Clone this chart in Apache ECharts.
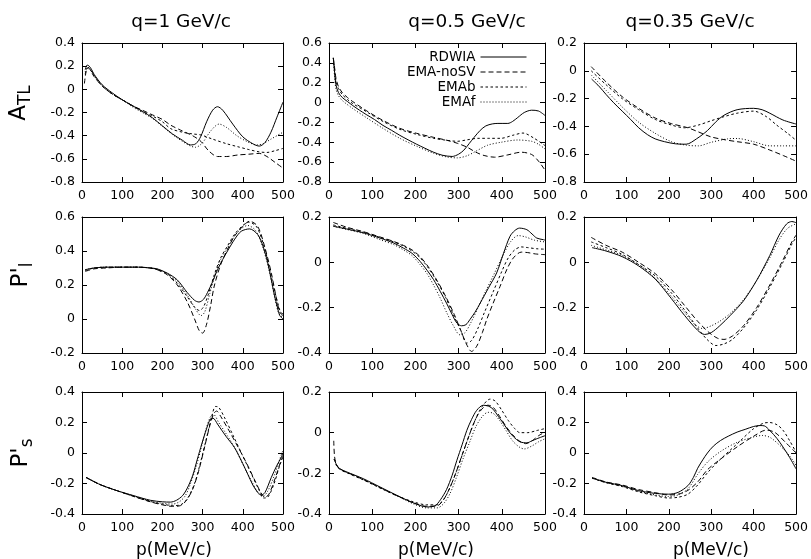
<!DOCTYPE html>
<html><head><meta charset="utf-8">
<script src="https://cdn.jsdelivr.net/npm/echarts@6/dist/echarts.min.js"></script>
<style>html,body{margin:0;padding:0;background:#fff}#c{width:811px;height:559px}</style>
</head><body><div id="c"></div>
<script>
// ---------- DATA: [p (MeV/c), value] ----------
// A_TL, q = 1 GeV/c
const atl1_rdwia = [[8,0.17],[13,0.21],[18,0.2],[24,0.17],[30,0.13],[50,0.04],[75,-0.03],[100,-0.09],[125,-0.14],[150,-0.19],[175,-0.245],[200,-0.315],[225,-0.385],[250,-0.44],[270,-0.48],[283,-0.47],[295,-0.41],[310,-0.28],[325,-0.18],[337,-0.15],[350,-0.18],[375,-0.3],[400,-0.41],[425,-0.47],[441,-0.49],[455,-0.46],[470,-0.37],[485,-0.24],[500,-0.11]];
const atl1_nosv = [[6,0.05],[10,0.15],[15,0.19],[22,0.16],[30,0.11],[50,0.03],[75,-0.04],[100,-0.09],[125,-0.14],[150,-0.18],[175,-0.22],[200,-0.26],[221,-0.31],[250,-0.36],[275,-0.4],[296,-0.45],[315,-0.53],[337,-0.58],[360,-0.58],[387,-0.567],[415,-0.56],[441,-0.553],[460,-0.58],[480,-0.63],[500,-0.68]];
const atl1_emab = [[8,0.13],[13,0.18],[20,0.17],[30,0.12],[50,0.03],[75,-0.04],[100,-0.09],[125,-0.14],[150,-0.19],[175,-0.23],[200,-0.28],[221,-0.34],[250,-0.37],[275,-0.385],[296,-0.394],[325,-0.43],[360,-0.47],[387,-0.495],[415,-0.52],[441,-0.54],[460,-0.545],[480,-0.53],[500,-0.51]];
const atl1_emaf = [[8,0.15],[14,0.19],[22,0.17],[30,0.12],[50,0.03],[75,-0.04],[100,-0.09],[125,-0.15],[150,-0.2],[175,-0.25],[200,-0.32],[225,-0.39],[250,-0.45],[270,-0.49],[283,-0.5],[300,-0.46],[320,-0.36],[341,-0.3],[360,-0.33],[385,-0.4],[410,-0.45],[435,-0.48],[450,-0.47],[470,-0.43],[500,-0.37]];
// A_TL, q = 0.5 GeV/c
const atl2_rdwia = [[10,0.45],[13,0.3],[16,0.18],[22,0.1],[31,0.05],[43,0.01],[55,-0.03],[70,-0.075],[86,-0.12],[105,-0.17],[125,-0.23],[145,-0.28],[164,-0.33],[183,-0.375],[203,-0.42],[222,-0.46],[242,-0.5],[262,-0.53],[285,-0.543],[300,-0.52],[312,-0.48],[325,-0.41],[336,-0.35],[350,-0.28],[363,-0.235],[378,-0.215],[391,-0.21],[414,-0.21],[425,-0.19],[437,-0.15],[452,-0.1],[469,-0.077],[485,-0.085],[500,-0.13]];
const atl2_nosv = [[10,0.45],[13,0.35],[16,0.25],[22,0.16],[31,0.1],[43,0.05],[55,0.01],[86,-0.08],[125,-0.18],[164,-0.26],[203,-0.31],[242,-0.35],[273,-0.38],[297,-0.41],[320,-0.45],[340,-0.5],[359,-0.533],[383,-0.55],[414,-0.527],[445,-0.5],[469,-0.523],[485,-0.59],[500,-0.68]];
const atl2_emab = [[10,0.45],[13,0.33],[16,0.22],[22,0.14],[31,0.08],[43,0.03],[55,-0.01],[86,-0.09],[125,-0.19],[164,-0.27],[203,-0.32],[242,-0.36],[273,-0.38],[297,-0.39],[320,-0.375],[345,-0.36],[370,-0.36],[398,-0.36],[425,-0.33],[449,-0.307],[475,-0.36],[500,-0.433]];
const atl2_emaf = [[10,0.45],[13,0.26],[16,0.14],[22,0.07],[31,0.02],[55,-0.06],[86,-0.15],[125,-0.26],[164,-0.36],[203,-0.44],[242,-0.51],[273,-0.548],[297,-0.557],[320,-0.535],[340,-0.49],[367,-0.43],[398,-0.4],[437,-0.377],[469,-0.39],[485,-0.42],[500,-0.467]];
// A_TL, q = 0.35 GeV/c
const atl3_rdwia = [[18,-0.06],[35,-0.11],[52,-0.17],[70,-0.23],[90,-0.29],[110,-0.35],[129,-0.41],[150,-0.46],[168,-0.49],[190,-0.51],[215,-0.525],[241,-0.528],[265,-0.49],[291,-0.43],[310,-0.37],[330,-0.32],[361,-0.28],[400,-0.27],[420,-0.28],[438,-0.305],[469,-0.354],[500,-0.383]];
const atl3_nosv = [[17,0.03],[52,-0.08],[90,-0.186],[129,-0.27],[168,-0.34],[206,-0.38],[245,-0.41],[270,-0.44],[299,-0.475],[330,-0.495],[361,-0.51],[400,-0.528],[438,-0.57],[470,-0.61],[500,-0.65]];
const atl3_emab = [[17,0.0],[52,-0.1],[90,-0.2],[129,-0.28],[168,-0.35],[206,-0.39],[237,-0.41],[270,-0.39],[299,-0.36],[330,-0.33],[361,-0.305],[400,-0.29],[430,-0.33],[454,-0.39],[480,-0.45],[500,-0.5]];
const atl3_emaf = [[17,-0.03],[52,-0.14],[90,-0.26],[129,-0.37],[168,-0.45],[206,-0.51],[241,-0.535],[270,-0.54],[299,-0.515],[338,-0.49],[361,-0.487],[400,-0.51],[438,-0.54],[470,-0.54],[500,-0.54]];
// P'_l, q = 1 GeV/c
const pl1_rdwia = [[8,0.29],[30,0.3],[60,0.305],[100,0.305],[140,0.305],[170,0.3],[187,0.295],[212,0.27],[237,0.23],[262,0.155],[280,0.11],[291,0.1],[302,0.115],[312,0.155],[325,0.22],[337,0.29],[350,0.35],[362,0.4],[380,0.47],[396,0.516],[417,0.53],[437,0.497],[450,0.43],[462,0.33],[471,0.23],[479,0.136],[486,0.07],[492,0.02],[500,0.0]];
const pl1_nosv = [[8,0.28],[30,0.295],[60,0.3],[100,0.305],[140,0.305],[170,0.3],[187,0.29],[212,0.26],[237,0.2],[262,0.1],[280,0.0],[292,-0.07],[300,-0.083],[310,-0.03],[320,0.08],[329,0.194],[345,0.32],[362,0.41],[380,0.49],[404,0.555],[417,0.575],[437,0.545],[455,0.42],[471,0.27],[482,0.14],[492,0.04],[500,0.02]];
const pl1_emab = [[8,0.285],[30,0.3],[60,0.305],[100,0.305],[140,0.305],[170,0.3],[187,0.29],[212,0.265],[237,0.21],[262,0.13],[280,0.07],[292,0.05],[302,0.07],[315,0.15],[329,0.26],[345,0.36],[362,0.43],[380,0.5],[400,0.55],[415,0.57],[435,0.54],[455,0.41],[471,0.25],[484,0.12],[494,0.04],[500,0.03]];
const pl1_emaf = [[8,0.29],[30,0.3],[60,0.305],[100,0.305],[140,0.305],[170,0.3],[187,0.293],[212,0.268],[237,0.22],[262,0.14],[282,0.06],[296,0.02],[305,0.04],[318,0.15],[332,0.27],[345,0.35],[362,0.42],[380,0.49],[398,0.535],[412,0.55],[432,0.52],[450,0.42],[466,0.28],[480,0.12],[490,0.03],[500,0.01]];
// P'_l, q = 0.5 GeV/c
const pl2_rdwia = [[10,0.159],[41,0.147],[80,0.13],[118,0.107],[150,0.085],[172,0.063],[192,0.04],[211,0.004],[227,-0.035],[242,-0.076],[258,-0.13],[272,-0.18],[285,-0.23],[296,-0.268],[307,-0.28],[317,-0.275],[326,-0.253],[338,-0.22],[350,-0.18],[370,-0.11],[388,-0.047],[404,0.04],[419,0.115],[430,0.14],[441,0.151],[458,0.144],[470,0.125],[481,0.107],[496,0.1],[500,0.098]];
const pl2_nosv = [[10,0.176],[41,0.155],[80,0.135],[118,0.112],[150,0.092],[172,0.075],[192,0.055],[211,0.025],[230,-0.02],[250,-0.08],[270,-0.15],[290,-0.23],[305,-0.3],[318,-0.36],[330,-0.393],[342,-0.37],[355,-0.31],[365,-0.253],[380,-0.18],[396,-0.106],[412,-0.03],[427,0.02],[445,0.045],[460,0.043],[478,0.037],[500,0.034]];
const pl2_emab = [[10,0.165],[41,0.15],[80,0.133],[118,0.11],[150,0.09],[172,0.072],[192,0.05],[211,0.02],[230,-0.025],[250,-0.085],[270,-0.155],[290,-0.24],[305,-0.3],[319,-0.356],[330,-0.345],[345,-0.29],[360,-0.22],[380,-0.13],[400,-0.04],[415,0.02],[430,0.055],[445,0.068],[460,0.065],[480,0.06],[500,0.058]];
const pl2_emaf = [[10,0.16],[41,0.145],[80,0.127],[118,0.1],[150,0.078],[172,0.055],[192,0.03],[211,-0.01],[227,-0.05],[242,-0.1],[258,-0.16],[272,-0.22],[288,-0.28],[303,-0.32],[315,-0.31],[330,-0.26],[345,-0.2],[362,-0.13],[380,-0.06],[400,0.02],[420,0.09],[438,0.118],[455,0.112],[475,0.098],[500,0.09]];
// P'_l, q = 0.35 GeV/c
const pl3_rdwia = [[19,0.065],[52,0.05],[90,0.025],[129,-0.016],[168,-0.074],[206,-0.16],[237,-0.234],[268,-0.3],[284,-0.318],[300,-0.31],[320,-0.28],[345,-0.234],[376,-0.17],[407,-0.08],[438,0.03],[460,0.12],[478,0.17],[490,0.18],[500,0.175]];
const pl3_nosv = [[17,0.11],[52,0.075],[90,0.045],[129,0.0],[168,-0.05],[206,-0.12],[237,-0.19],[268,-0.26],[295,-0.31],[315,-0.335],[330,-0.34],[350,-0.325],[376,-0.28],[407,-0.2],[438,-0.1],[469,0.01],[490,0.09],[500,0.12]];
const pl3_emab = [[17,0.09],[52,0.065],[90,0.035],[129,-0.01],[168,-0.06],[206,-0.135],[237,-0.21],[268,-0.29],[290,-0.34],[311,-0.367],[330,-0.36],[350,-0.34],[376,-0.29],[407,-0.21],[438,-0.11],[469,0.0],[490,0.08],[500,0.11]];
const pl3_emaf = [[17,0.075],[52,0.055],[90,0.03],[129,-0.01],[168,-0.07],[206,-0.15],[237,-0.22],[262,-0.275],[280,-0.292],[300,-0.28],[320,-0.26],[345,-0.225],[376,-0.165],[407,-0.08],[438,0.02],[460,0.1],[480,0.15],[500,0.17]];
// P'_s, q = 1 GeV/c
const ps1_rdwia = [[10,-0.16],[45,-0.207],[87,-0.247],[129,-0.28],[170,-0.31],[200,-0.32],[220,-0.322],[235,-0.31],[250,-0.28],[262,-0.23],[275,-0.15],[287,-0.04],[298,0.06],[310,0.16],[320,0.225],[326,0.228],[337,0.19],[358,0.11],[379,0.037],[400,-0.07],[412,-0.137],[425,-0.21],[437,-0.258],[446,-0.275],[455,-0.26],[471,-0.16],[485,-0.08],[496,-0.028],[500,0.0]];
const ps1_nosv = [[10,-0.16],[45,-0.207],[87,-0.247],[129,-0.285],[170,-0.32],[200,-0.34],[225,-0.35],[245,-0.345],[260,-0.31],[275,-0.24],[290,-0.12],[305,0.04],[318,0.18],[328,0.26],[335,0.275],[345,0.24],[365,0.15],[390,0.03],[410,-0.07],[430,-0.18],[445,-0.26],[455,-0.29],[465,-0.27],[480,-0.17],[495,-0.05],[500,-0.02]];
const ps1_emab = [[10,-0.16],[45,-0.207],[87,-0.247],[129,-0.285],[170,-0.318],[200,-0.335],[225,-0.345],[245,-0.34],[262,-0.3],[280,-0.2],[295,-0.06],[310,0.1],[322,0.23],[332,0.305],[340,0.3],[355,0.23],[375,0.12],[400,-0.02],[420,-0.13],[440,-0.24],[452,-0.295],[462,-0.29],[478,-0.2],[492,-0.08],[500,-0.03]];
const ps1_emaf = [[10,-0.16],[45,-0.207],[87,-0.247],[129,-0.282],[170,-0.315],[200,-0.33],[225,-0.335],[242,-0.32],[257,-0.28],[270,-0.2],[285,-0.08],[298,0.05],[310,0.17],[321,0.245],[328,0.25],[340,0.2],[360,0.12],[385,0.01],[405,-0.1],[425,-0.2],[440,-0.27],[450,-0.285],[462,-0.25],[478,-0.15],[492,-0.04],[500,0.02]];
// P'_s, q = 0.5 GeV/c
const ps2_rdwia = [[12,-0.13],[18,-0.16],[25,-0.177],[41,-0.193],[79,-0.226],[118,-0.267],[157,-0.308],[195,-0.345],[226,-0.365],[245,-0.36],[258,-0.33],[272,-0.28],[285,-0.21],[296,-0.136],[308,-0.06],[319,0.011],[330,0.065],[342,0.11],[357,0.135],[370,0.13],[380,0.115],[392,0.08],[404,0.045],[415,0.01],[427,-0.02],[442,-0.045],[458,-0.05],[470,-0.04],[481,-0.03],[500,-0.015]];
const ps2_nosv = [[11,-0.04],[13,-0.12],[18,-0.16],[25,-0.18],[41,-0.195],[79,-0.23],[118,-0.27],[157,-0.31],[195,-0.345],[226,-0.362],[250,-0.36],[265,-0.33],[280,-0.27],[295,-0.19],[308,-0.11],[320,-0.04],[332,0.03],[345,0.09],[358,0.125],[368,0.135],[380,0.125],[395,0.08],[410,0.03],[425,-0.01],[440,-0.04],[455,-0.054],[470,-0.04],[485,-0.015],[500,0.003]];
const ps2_emab = [[12,-0.13],[18,-0.165],[25,-0.18],[41,-0.197],[79,-0.232],[118,-0.272],[157,-0.31],[195,-0.34],[226,-0.355],[250,-0.355],[265,-0.33],[280,-0.27],[295,-0.19],[310,-0.1],[325,-0.01],[340,0.07],[355,0.13],[373,0.165],[385,0.155],[400,0.11],[415,0.06],[430,0.02],[442,0.0],[460,0.0],[480,0.01],[500,0.02]];
const ps2_emaf = [[12,-0.13],[18,-0.16],[25,-0.178],[41,-0.195],[79,-0.23],[118,-0.27],[157,-0.31],[195,-0.35],[226,-0.37],[250,-0.37],[265,-0.35],[280,-0.3],[295,-0.22],[310,-0.13],[325,-0.05],[340,0.03],[355,0.08],[368,0.1],[380,0.095],[395,0.06],[410,0.01],[425,-0.04],[440,-0.07],[452,-0.08],[470,-0.065],[485,-0.045],[500,-0.03]];
// P'_s, q = 0.35 GeV/c
const ps3_rdwia = [[19,-0.164],[52,-0.192],[90,-0.214],[129,-0.247],[168,-0.265],[199,-0.27],[222,-0.258],[245,-0.214],[258,-0.16],[268,-0.1],[280,-0.045],[291,0.0],[305,0.045],[322,0.082],[340,0.11],[361,0.137],[380,0.155],[400,0.174],[415,0.18],[425,0.178],[438,0.148],[455,0.095],[469,0.04],[485,-0.03],[500,-0.104]];
const ps3_nosv = [[19,-0.16],[52,-0.19],[90,-0.21],[129,-0.24],[168,-0.26],[199,-0.275],[222,-0.27],[245,-0.245],[268,-0.19],[291,-0.11],[322,-0.04],[361,0.04],[400,0.11],[430,0.15],[450,0.135],[475,0.07],[500,0.0]];
const ps3_emab = [[19,-0.165],[52,-0.195],[90,-0.22],[129,-0.255],[168,-0.28],[199,-0.295],[222,-0.29],[245,-0.27],[268,-0.21],[291,-0.13],[322,-0.04],[361,0.06],[400,0.16],[423,0.195],[438,0.2],[455,0.185],[469,0.15],[485,0.08],[500,0.005]];
const ps3_emaf = [[19,-0.165],[52,-0.193],[90,-0.218],[129,-0.25],[168,-0.275],[199,-0.285],[222,-0.275],[245,-0.235],[268,-0.14],[291,-0.06],[322,0.01],[361,0.07],[400,0.105],[420,0.115],[440,0.1],[469,0.03],[485,-0.02],[500,-0.08]];

const seriesNames = ['RDWIA', 'EMA-noSV', 'EMAb', 'EMAf'];
const colTitles = ['q=1 GeV/c', 'q=0.5 GeV/c', 'q=0.35 GeV/c'];
const xAxisTitle = 'p(MeV/c)';
const xRange = [0, 500, 100];
const yRanges = [[-0.8, 0.4], [-0.8, 0.6], [-0.8, 0.2], [-0.2, 0.6], [-0.4, 0.2], [-0.4, 0.2], [-0.4, 0.4], [-0.4, 0.2], [-0.4, 0.4]];
const yStep = 0.2;
const panelData = [
  [atl1_rdwia, atl1_nosv, atl1_emab, atl1_emaf],
  [atl2_rdwia, atl2_nosv, atl2_emab, atl2_emaf],
  [atl3_rdwia, atl3_nosv, atl3_emab, atl3_emaf],
  [pl1_rdwia, pl1_nosv, pl1_emab, pl1_emaf],
  [pl2_rdwia, pl2_nosv, pl2_emab, pl2_emaf],
  [pl3_rdwia, pl3_nosv, pl3_emab, pl3_emaf],
  [ps1_rdwia, ps1_nosv, ps1_emab, ps1_emaf],
  [ps2_rdwia, ps2_nosv, ps2_emab, ps2_emaf],
  [ps3_rdwia, ps3_nosv, ps3_emab, ps3_emaf]
];

// ---------- LAYOUT / STYLE ----------
const FONT = '"DejaVu Sans", "Liberation Sans", sans-serif';
const colPos = [[82, 201], [329, 216], [584, 216]];
const rowPos = [[43, 139], [217, 136], [392, 122]];
const dashes = ['solid', [5, 3], [2.5, 2.5], [1, 2]];
const TICK_FS = 12.5;

const fmt = v => { const r = Math.round(v * 10) / 10; return r === 0 ? '0' : String(r); };

const grids = [], xAxes = [], yAxes = [], series = [];
const xTop = [], yRight = [];
for (let i = 0; i < 9; i++) {
  const r = Math.floor(i / 3), c = i % 3;
  grids.push({ left: colPos[c][0], width: colPos[c][1], top: rowPos[r][0], height: rowPos[r][1], containLabel: false, show: false });
  const common = {
    gridIndex: i, type: 'value',
    axisLine: { show: true, onZero: false, lineStyle: { color: '#000', width: 1 } },
    axisTick: { show: true, inside: true, length: 5, lineStyle: { color: '#000' } },
    splitLine: { show: false }
  };
  xAxes.push(Object.assign({}, common, {
    position: 'bottom', min: xRange[0], max: xRange[1], interval: xRange[2],
    axisLabel: { show: true, color: '#000', fontSize: TICK_FS, fontFamily: FONT, margin: 7 }
  }));
  xTop.push(Object.assign({}, common, {
    position: 'top', min: xRange[0], max: xRange[1], interval: xRange[2], axisLabel: { show: false }
  }));
  yAxes.push(Object.assign({}, common, {
    position: 'left', min: yRanges[i][0], max: yRanges[i][1], interval: yStep,
    axisLabel: { show: true, color: '#000', fontSize: TICK_FS, fontFamily: FONT, margin: 7, formatter: fmt }
  }));
  yRight.push(Object.assign({}, common, {
    position: 'right', min: yRanges[i][0], max: yRanges[i][1], interval: yStep, axisLabel: { show: false }
  }));
  panelData[i].forEach((d, k) => {
    series.push({
      type: 'line', name: seriesNames[k], xAxisIndex: i, yAxisIndex: i,
      data: d, symbol: 'none', smooth: 0.3, clip: true,
      lineStyle: { color: '#000', width: 1, type: dashes[k] },
      itemStyle: { color: '#000' }
    });
  });
}

const graphics = [];
colTitles.forEach((t, c) => {
  const cx = [181, 467, 690][c];
  graphics.push({ type: 'text', x: cx, y: 22, style: { text: t, fill: '#000', fontSize: 18.5, fontFamily: FONT, align: 'center', verticalAlign: 'middle' } });
  const nx = [174, 436, 711][c];
  graphics.push({ type: 'text', x: nx, y: 551, style: { text: xAxisTitle, fill: '#000', fontSize: 17, fontFamily: FONT, align: 'center', verticalAlign: 'middle' } });
});
const yTitles = [
  { main: 'A', sub: 'TL', x: 19, y: 103 },
  { main: "P'", sub: 'l', x: 21, y: 275 },
  { main: "P'", sub: 's', x: 21, y: 453 }
];
yTitles.forEach(t => {
  graphics.push({
    type: 'text', x: t.x, y: t.y, rotation: Math.PI / 2,
    style: {
      text: '{m|' + t.main + '}{s|' + t.sub + '}', fill: '#000', align: 'center', verticalAlign: 'middle',
      rich: {
        m: { fontSize: 23, fontFamily: FONT, lineHeight: 30, verticalAlign: 'middle', fill: '#000' },
        s: { fontSize: 17, fontFamily: FONT, lineHeight: 17, verticalAlign: 'bottom', fill: '#000' }
      }
    }
  });
});

const chart = echarts.init(document.getElementById('c'), null, { renderer: 'canvas' });
chart.setOption({
  animation: false,
  backgroundColor: '#fff',
  grid: grids,
  xAxis: xAxes.concat(xTop),
  yAxis: yAxes.concat(yRight),
  legend: {
    data: seriesNames, orient: 'vertical', align: 'right', right: 284, top: 50, padding: 0,
    itemWidth: 46, itemHeight: 10, itemGap: 1,
    textStyle: { fontSize: 13.5, fontFamily: FONT, color: '#000', lineHeight: 14 },
    itemStyle: { opacity: 0 },
    lineStyle: { width: 1 },
    selectedMode: false
  },
  graphic: graphics,
  series: series
});
</script></body></html>
